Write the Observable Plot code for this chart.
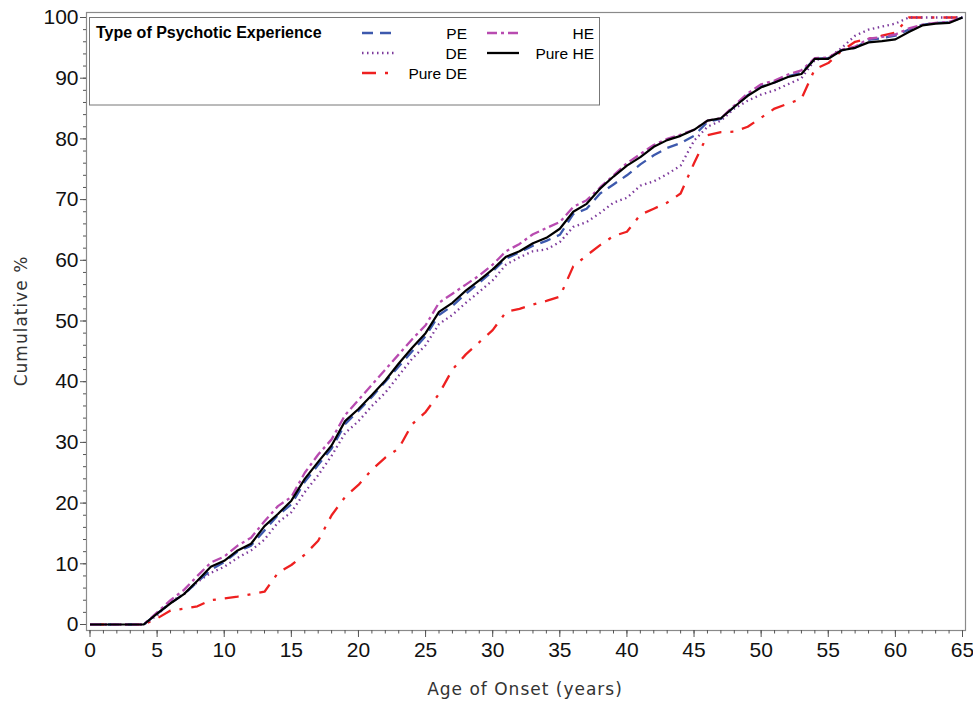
<!DOCTYPE html>
<html>
<head>
<meta charset="utf-8">
<script src="https://cdn.jsdelivr.net/npm/d3@7"></script>
<script src="https://cdn.jsdelivr.net/npm/@observablehq/plot@0.6"></script>
<style>
  html, body { margin: 0; padding: 0; background: #fff; }
  #chart { width: 973px; height: 701px; }
</style>
</head>
<body>
<div id="chart"></div>
<script>
// ---- Data ----
const ages = [0,1,2,3,4,5,6,7,8,9,10,11,12,13,14,15,16,17,18,19,20,21,22,23,24,25,26,27,28,29,30,31,32,33,34,35,36,37,38,39,40,41,42,43,44,45,46,47,48,49,50,51,52,53,54,55,56,57,58,59,60,61,62,63,64,65];

const PE = [0,0,0,0,0,1.8,3.5,5,7,9,10.3,12,13,15.5,18,19.8,23.5,26.3,29,33,35.2,37.5,40,42.5,45,47.5,51,52.5,54.5,56.3,58.2,60.3,61.3,62.4,63.2,64.2,67.6,68.5,71,72.5,74,75.8,77.3,78.5,79.3,80.5,82.8,83.3,85.3,87.2,88.6,89.3,90.3,90.9,93.2,93.3,94.6,95,96.3,96.6,97,98,98.8,99.1,99.2,100];

const DE = [0,0,0,0,0,1.5,3.8,5,7,8.5,9.5,11,12.2,14,16.8,18.5,21.8,24.6,27.8,31.5,33.5,36,38.2,41,43.8,46,49.5,51,53,54.8,56.7,59.3,60.5,61.5,61.8,63,65.5,66.3,67.8,69.5,70.3,72.3,73,74.2,75.6,79.7,82,83,85,86.3,87.3,88,89,90,93,93.3,95,97,98,98.5,99,100,100,100,100,100];

const pureDE = [0,0,0,0,0,1,2.3,2.6,3,4,4.3,4.6,5,5.4,8.5,9.8,11.5,13.8,18,21,23,25.5,27.5,29,33,35,38,42,44.5,46.5,48.5,51.5,52,52.7,53.3,54,59,60.8,62.5,64,64.7,67.5,68.5,69.5,71,76,80.6,81.1,81.2,82,83.5,85,85.8,86.6,91.5,92.5,94.5,96,96.5,97,97.5,100,100,100,100,100];

const HE = [0,0,0,0,0,2,4,5.7,8,10.2,11.2,13,14.3,17,19.5,21,25,28,30.5,34.5,37,39.5,42,44.5,47,49.3,53,54.5,56,57.5,59.3,61.5,62.7,64.3,65.3,66.3,68.8,69.9,72,74,76,77.5,79,80,80.7,81.5,83,83.4,85.5,87.5,89,89.6,90.6,91.3,93.3,93.4,94.7,95.2,96.5,96.8,97.2,98.2,98.8,99.1,99.3,100];

const pureHE = [0,0,0,0,0,1.8,3.5,5,7.2,9.5,10.5,12.2,13.3,16.2,18.2,20.4,24,26.8,29.5,33.5,35.5,37.8,40.2,43,45.6,48,51.5,53,55,56.7,58.5,60.6,61.5,62.8,63.7,65.2,68,69.3,71.8,73.8,75.6,77,78.7,79.8,80.5,81.5,83,83.4,85.3,87.1,88.5,89.3,90.2,90.7,93.2,93.2,94.6,95,95.9,96.1,96.4,97.6,98.7,99,99.1,100];

const xTicks = [0,5,10,15,20,25,30,35,40,45,50,55,60,65];
const yTicks = [0,10,20,30,40,50,60,70,80,90,100];

const seriesNames = ["PE", "DE", "Pure DE", "HE", "Pure HE"];
const seriesValues = [PE, DE, pureDE, HE, pureHE];

// styles
const styles = {
  "PE":      {stroke: "#3d59ad", dash: "11,7"},
  "DE":      {stroke: "#7d3a9c", dash: "1.5,3.5"},
  "Pure DE": {stroke: "#ee2020", dash: "14,9,3,9"},
  "HE":      {stroke: "#b84bb0", dash: "10,4,3,4"},
  "Pure HE": {stroke: "#000000", dash: null}
};
const drawOrder = ["Pure DE", "DE", "PE", "HE", "Pure HE"];

const tables = {};
seriesNames.forEach((n, k) => {
  tables[n] = ages.map((a, i) => ({age: a, value: seriesValues[k][i], series: n}));
});

const minorX = ages;
const minorY = d3.range(0, 101, 2);

const FONT = "'Liberation Sans', Arial, sans-serif";

const chart = Plot.plot({
  width: 973,
  height: 701,
  marginLeft: 86,
  marginRight: 8,
  marginTop: 12,
  marginBottom: 71,
  style: {fontFamily: FONT, background: "#fff", overflow: "visible"},
  x: {domain: [0, 65], insetLeft: 3.5, insetRight: 3},
  y: {domain: [0, 100], insetTop: 5, insetBottom: 6},
  marks: [
    Plot.frame({stroke: "#8a8a8a", strokeWidth: 1.2}),
    Plot.axisX({ticks: minorX, tickSize: 3.5, tickFormat: () => "", stroke: "#555", label: null}),
    Plot.axisX({ticks: xTicks, tickSize: 7, tickPadding: 5, fontSize: 21, stroke: "#555", fill: "#111", label: null}),
    Plot.axisY({ticks: minorY, tickSize: 3, tickFormat: () => "", stroke: "#555", label: null}),
    Plot.axisY({ticks: yTicks, tickSize: 6, tickPadding: 2, fontSize: 21, stroke: "#555", fill: "#111", label: null}),
    ...drawOrder.map(n => Plot.line(tables[n], {
      x: "age", y: "value",
      stroke: styles[n].stroke,
      strokeWidth: n === "Pure HE" ? 2.2 : 2.3,
      strokeDasharray: styles[n].dash,
      strokeLinejoin: "round",
      strokeLinecap: "butt"
    }))
  ]
});

document.getElementById("chart").appendChild(chart);

// ---- Axis titles and legend (real text) ----
const svg = d3.select(chart);
const LABEL_FONT = "'DejaVu Sans', sans-serif";

svg.append("text")
  .attr("x", 525).attr("y", 695)
  .attr("text-anchor", "middle")
  .attr("font-family", LABEL_FONT)
  .attr("font-weight", "normal")
  .attr("font-size", 17)
  .attr("letter-spacing", 1)
  .attr("fill", "#333")
  .text("Age of Onset (years)");

svg.append("text")
  .attr("transform", "translate(27,321) rotate(-90)")
  .attr("text-anchor", "middle")
  .attr("font-family", LABEL_FONT)
  .attr("font-weight", "normal")
  .attr("font-size", 17)
  .attr("letter-spacing", 1)
  .attr("fill", "#333")
  .text("Cumulative %");

const lg = svg.append("g").attr("font-family", FONT).attr("text-anchor", "start");
lg.append("rect")
  .attr("x", 89.5).attr("y", 17.5).attr("width", 510).attr("height", 87.5)
  .attr("fill", "#fff").attr("stroke", "#777").attr("stroke-width", 1);
lg.append("text")
  .attr("x", 96).attr("y", 38)
  .attr("text-anchor", "start")
  .attr("font-size", 16).attr("font-weight", "bold").attr("fill", "#000")
  .text("Type of Psychotic Experience");

const legendItems = [
  {name: "PE", x0: 362, x1: 394, tx: 467, y: 33},
  {name: "DE", x0: 362, x1: 394, tx: 467, y: 53},
  {name: "Pure DE", x0: 362, x1: 394, tx: 467, y: 73},
  {name: "HE", x0: 487, x1: 519, tx: 594, y: 33},
  {name: "Pure HE", x0: 487, x1: 519, tx: 594, y: 53}
];
legendItems.forEach(it => {
  lg.append("line")
    .attr("x1", it.x0).attr("x2", it.x1).attr("y1", it.y).attr("y2", it.y)
    .attr("stroke", styles[it.name].stroke)
    .attr("stroke-width", 2.3)
    .attr("stroke-dasharray", styles[it.name].dash);
  lg.append("text")
    .attr("x", it.tx).attr("y", it.y + 5.5)
    .attr("text-anchor", "end")
    .attr("font-size", 15.5).attr("fill", "#000")
    .text(it.name);
});
</script>
</body>
</html>
